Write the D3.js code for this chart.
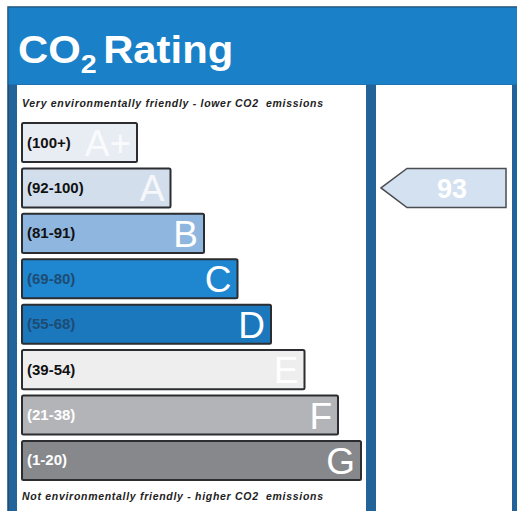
<!DOCTYPE html>
<html>
<head>
<meta charset="utf-8">
<script src="https://cdn.jsdelivr.net/npm/d3@7"></script>
<style>
  body { margin: 0; background: #fff; }
  svg { display: block; font-family: Arial, "Liberation Sans", sans-serif; }
</style>
</head>
<body>
<svg id="chart"></svg>
<script>
// rating bands, top (best) to bottom (worst)
const ratings = ["A+", "A", "B", "C", "D", "E", "F", "G"];
const ranges = ["(100+)", "(92-100)", "(81-91)", "(69-80)", "(55-68)", "(39-54)", "(21-38)", "(1-20)"];
const bandColors = ["#e8ecf3", "#d3deec", "#8fb6de", "#1f87cf", "#1b78bd", "#eeeeef", "#b3b4b8", "#86888c"];
const labelColors = ["#111", "#111", "#111", "#1d4c74", "#1d4c74", "#111", "#fff", "#fff"];
const currentScore = 93;
const currentBand = "A";

const width = 517, height = 511;
const svg = d3.select("#chart").attr("width", width).attr("height", height);

// frame
svg.append("rect").attr("x", 8).attr("y", 7).attr("width", 520).attr("height", 520)
  .attr("fill", "#22649a").attr("stroke", "#1c4b72").attr("stroke-width", 1.5);
svg.append("rect").attr("x", 8.5).attr("y", 7.5).attr("width", 520).attr("height", 77)
  .attr("fill", "#1a80c7");

// title
const title = svg.append("text").attr("x", 18).attr("y", 63)
  .attr("fill", "#fff").attr("font-weight", "bold").attr("font-size", 38)
  .attr("transform", "translate(18,0) scale(1.1,1) translate(-18,0)");
title.append("tspan").text("CO");
title.append("tspan").attr("font-size", 26).attr("dy", 10).text("2");
title.append("tspan").attr("dy", -10).attr("dx", 6).text("Rating");

// panels
svg.append("rect").attr("x", 17).attr("y", 85).attr("width", 349).attr("height", 430).attr("fill", "#fff");
svg.append("rect").attr("x", 376).attr("y", 85).attr("width", 136).attr("height", 430).attr("fill", "#fff");

svg.append("text").attr("x", 22).attr("y", 107)
  .attr("font-size", 10.5).attr("font-weight", "bold").attr("font-style", "italic")
  .attr("fill", "#222").attr("textLength", 301)
  .text("Very environmentally friendly - lower CO2\u00a0 emissions");
svg.append("text").attr("x", 22).attr("y", 500)
  .attr("font-size", 10.5).attr("font-weight", "bold").attr("font-style", "italic")
  .attr("fill", "#222").attr("textLength", 301)
  .text("Not environmentally friendly - higher CO2\u00a0 emissions");

const y = d3.scaleBand().domain(ratings).range([123, 480]).paddingInner(0.14);
const w = d3.scaleLinear().domain([0, ratings.length - 1]).range([115, 349.5]);
const barX = 22;
const barW = (d, i) => Math.min(w(i), 339);

const bars = svg.append("g").selectAll("g")
  .data(ratings)
  .join("g")
  .attr("transform", d => `translate(${barX},${y(d)})`);

bars.append("rect")
  .attr("width", barW)
  .attr("height", y.bandwidth())
  .attr("rx", 1.5)
  .attr("fill", (d, i) => bandColors[i])
  .attr("stroke", "#2b2d30")
  .attr("stroke-width", 2);

bars.append("text")
  .attr("x", 5)
  .attr("y", y.bandwidth() / 2 + 5)
  .attr("font-size", 15)
  .attr("font-weight", "bold")
  .attr("fill", (d, i) => labelColors[i])
  .text((d, i) => ranges[i]);

bars.append("text")
  .attr("x", (d, i) => barW(d, i) - 6)
  .attr("y", y.bandwidth() - 6)
  .attr("text-anchor", "end")
  .attr("font-size", 37)
  .attr("fill", "#fff")
  .attr("fill-opacity", (d, i) => i < 2 ? 0.8 : 1)
  .text(d => d);

// current rating arrow
const ay = y(currentBand), ah = y.bandwidth();
const ax0 = 381, ax1 = 407, ax2 = 506;
svg.append("path")
  .attr("d", d3.line()([[ax0, ay + ah / 2], [ax1, ay], [ax2, ay], [ax2, ay + ah], [ax1, ay + ah]]) + "Z")
  .attr("fill", "#d3e1f0")
  .attr("stroke", "#4a4d52")
  .attr("stroke-width", 1.5);
svg.append("text")
  .attr("x", 452).attr("y", ay + ah / 2 + 10)
  .attr("text-anchor", "middle")
  .attr("font-size", 27).attr("font-weight", "bold")
  .attr("fill", "#fff")
  .text(currentScore);
</script>
</body>
</html>
